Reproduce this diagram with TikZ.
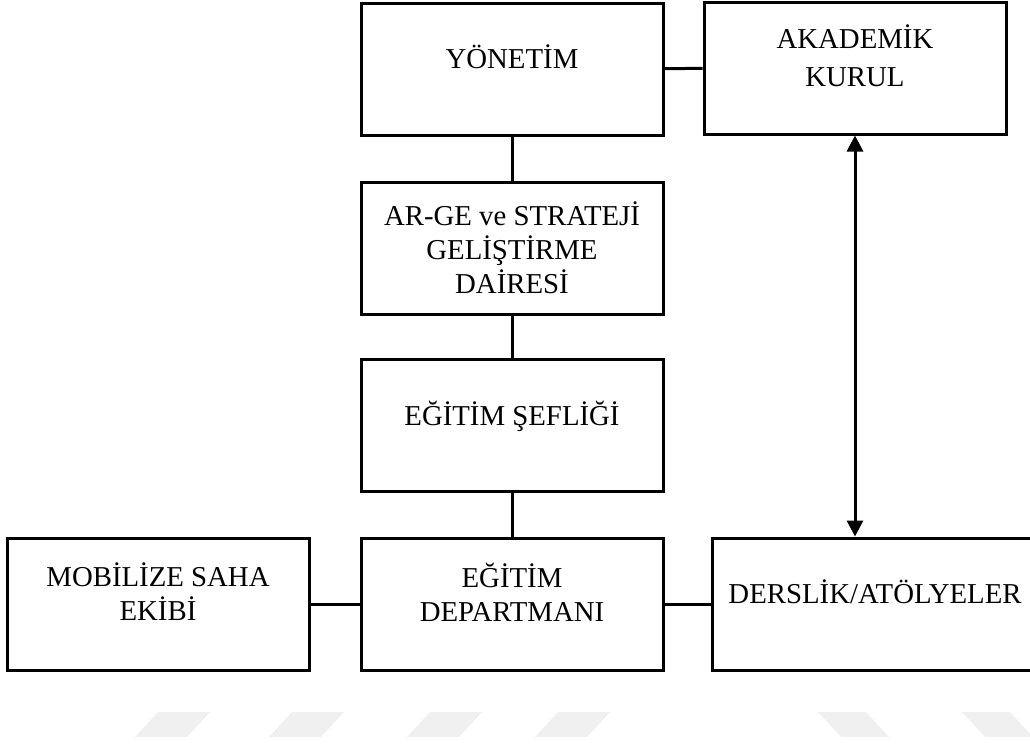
\documentclass[tikz,border=0pt]{standalone}
\usepackage{fontspec}
\setmainfont{Liberation Serif}
\usetikzlibrary{arrows.meta, positioning}

% extra depth under the last line, lifts the text a bit in its box
\newcommand{\lowpad}{\rule[-12pt]{0pt}{0pt}}

\begin{document}
\begin{tikzpicture}[x=0.5pt, y=-0.5pt,
    box/.style={draw, line width=1.5pt, align=center, inner sep=0pt,
        minimum width=151pt, minimum height=66pt,
        font=\fontsize{14.4}{17}\selectfont},
    link/.style={line width=1.5pt},
    wmark/.style={fill=black!6, draw=none},
]
  \useasboundingbox (0,0) rectangle (1030,745);

  % Faint marks at the bottom
  \foreach \a in {158, 292, 430, 558} {
      \fill[wmark] (\a,712) -- ++(52,0) -- ++(-23,25) -- ++(-52,0) -- cycle;
  }
  \foreach \a in {818, 962} {
      \fill[wmark] (\a,712) -- ++(48,0) -- ++(23,25) -- ++(-48,0) -- cycle;
  }

  % Boxes
  \node[box] (yon)  at (512,69)  {YÖNETİM\lowpad};
  \node[box] (akad) at (855,68)  {AKADEMİK\\[2pt]KURUL\lowpad};
  \node[box] (arge) at (512,248) {AR-GE ve STRATEJİ\\GELİŞTİRME\\DAİRESİ};
  \node[box] (sef)  at (512,425) {EĞİTİM ŞEFLİĞİ\lowpad};
  \node[box] (dep)  at (512,604) {EĞİTİM\\DEPARTMANI\lowpad};
  \node[box] (mob)  at (158,604) {MOBİLİZE SAHA\\EKİBİ\lowpad};
  \node[box, minimum width=163pt] (ders) at (875,604) {DERSLİK/ATÖLYELER\lowpad};

  % Connectors
  \draw[link] (yon) -- (akad);
  \draw[link] (yon) -- (arge);
  \draw[link] (arge) -- (sef);
  \draw[link] (sef) -- (dep);
  \draw[link] (mob) -- (dep);
  \draw[link] (dep) -- (ders);
  \draw[link, {Triangle[length=8pt,width=8pt]}-{Triangle[length=8pt,width=8pt]}]
      (akad.south) -- (akad.south |- ders.north);
\end{tikzpicture}
\end{document}
